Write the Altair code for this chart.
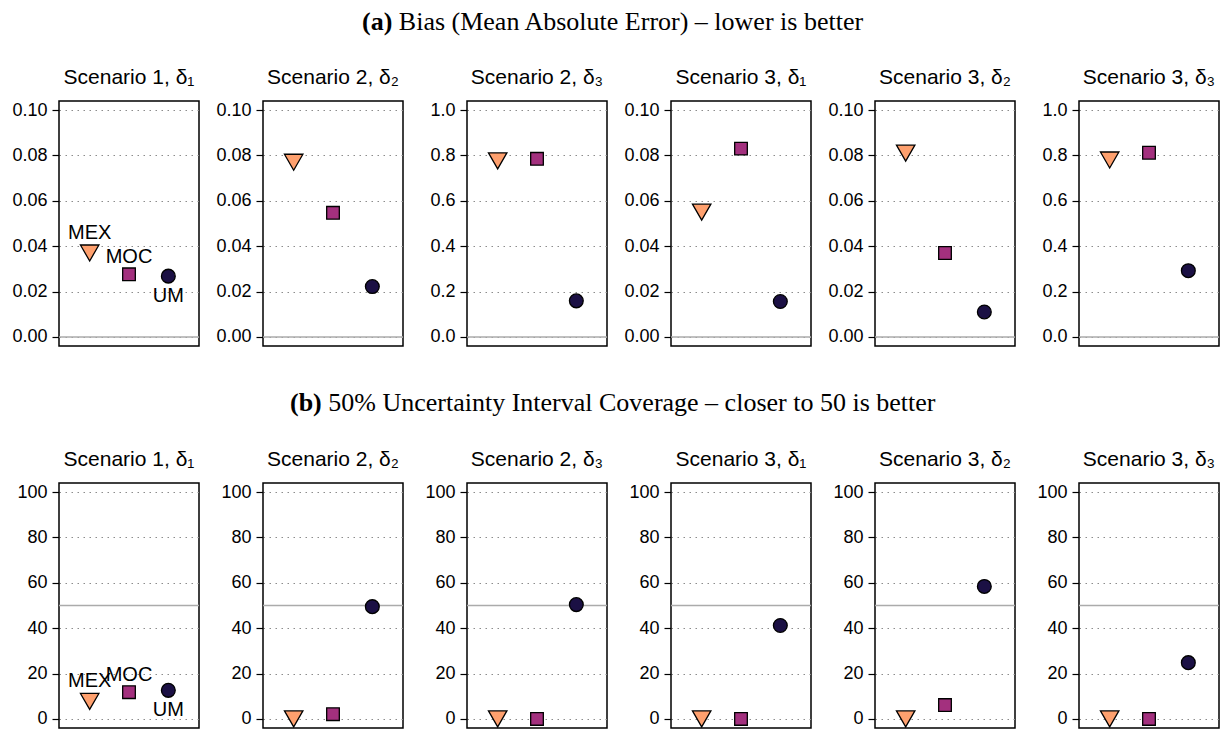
import altair as alt
import pandas as pd

# ---------------- data ----------------
panel_titles = ["Scenario 1, δ₁", "Scenario 2, δ₂", "Scenario 2, δ₃",
                "Scenario 3, δ₁", "Scenario 3, δ₂", "Scenario 3, δ₃"]
methods = ["MEX", "MOC", "UM"]
method_pos = [1, 2, 3]

mae_mex = [0.037, 0.077, 0.776, 0.055, 0.081, 0.780]
mae_moc = [0.0276, 0.0547, 0.785, 0.083, 0.037, 0.812]
mae_um = [0.0268, 0.0222, 0.159, 0.0156, 0.011, 0.292]

cov_mex = [7.7, 0.0, 0.0, 0.0, 0.0, 0.0]
cov_moc = [11.8, 2.1, 0.0, 0.0, 6.1, 0.0]
cov_um = [12.6, 49.5, 50.4, 41.2, 58.4, 24.8]

mae_small_ticks = [0.0, 0.02, 0.04, 0.06, 0.08, 0.10]
mae_large_ticks = [0.0, 0.2, 0.4, 0.6, 0.8, 1.0]
mae_large_panels = [2, 5]
cov_ticks = [0, 20, 40, 60, 80, 100]

header_a_bold = "(a)"
header_a_text = "Bias (Mean Absolute Error) – lower is better"
header_b_bold = "(b)"
header_b_text = "50% Uncertainty Interval Coverage – closer to 50 is better"

# ---------------- style ----------------
SANS = "Liberation Sans"
SERIF = "Liberation Serif"
shapes = {"MEX": "triangle-down", "MOC": "square", "UM": "circle"}
sizes = {"MEX": 340, "MOC": 160, "UM": 190}
fills = {"MEX": "#FEA06E", "MOC": "#A3307E", "UM": "#1B1044"}
label_dy = {"MEX": -20, "MOC": -17, "UM": 20}

PW = 140
PH = 245
HFS = 26


def header_layers(bold, text, xstart, ytop):
    bold_w = {"(a)": 1.166, "(b)": 1.222}[bold] * HFS
    hb = alt.Chart(pd.DataFrame({"t": [bold]})).mark_text(
        font=SERIF, fontSize=HFS, fontWeight="bold", align="left", baseline="top",
        color="black").encode(x=alt.value(xstart), y=alt.value(ytop), text="t:N")
    ht = alt.Chart(pd.DataFrame({"t": [text]})).mark_text(
        font=SERIF, fontSize=HFS, fontWeight="normal", align="left", baseline="top",
        color="black").encode(x=alt.value(xstart + bold_w + 0.25 * HFS),
                              y=alt.value(ytop), text="t:N")
    return [hb, ht]


def make_panel(i, mex, moc, um, ticks, fmt, refval, annotate, header=None):
    df = pd.DataFrame({"method": methods, "pos": method_pos,
                       "value": [mex[i], moc[i], um[i]]})
    span = ticks[-1] - ticks[0]
    pad = span * 0.04
    yscale = alt.Scale(domain=[ticks[0] - pad, ticks[-1] + pad], nice=False, zero=False)
    xscale = alt.Scale(domain=[0.22, 3.78], nice=False, zero=False)
    yaxis = alt.Axis(values=ticks, format=fmt, title=None, grid=True,
                     gridDash=[1.5, 4.5], gridColor="#8c8c8c", gridWidth=1,
                     domain=False, tickSize=7, tickWidth=1.2, tickColor="black",
                     labelPadding=5, labelFont=SANS, labelFontSize=18,
                     labelColor="black")
    ref = alt.Chart(pd.DataFrame({"value": [refval]})).mark_rule(
        color="#ABABAB", strokeWidth=1.6).encode(
        y=alt.Y("value:Q", scale=yscale, axis=yaxis))
    layers = [ref]
    for m in methods:
        layers.append(
            alt.Chart(df).transform_filter(alt.datum.method == m).mark_point(
                shape=shapes[m], size=sizes[m], filled=True, fill=fills[m],
                stroke="black", strokeWidth=1.3, opacity=1).encode(
                x=alt.X("pos:Q", scale=xscale, axis=None),
                y=alt.Y("value:Q", scale=yscale, axis=yaxis))
        )
    if annotate:
        for m in methods:
            layers.append(
                alt.Chart(df).transform_filter(alt.datum.method == m).mark_text(
                    dy=label_dy[m], font=SANS, fontSize=20, color="black").encode(
                    x=alt.X("pos:Q", scale=xscale, axis=None),
                    y=alt.Y("value:Q", scale=yscale, axis=yaxis),
                    text="method:N")
            )
    # panel title as a text mark above the frame
    layers.append(
        alt.Chart(pd.DataFrame({"t": [panel_titles[i]]})).mark_text(
            font=SANS, fontSize=21, color="black", align="center",
            baseline="bottom").encode(x=alt.value(PW / 2), y=alt.value(-13), text="t:N")
    )
    if header is not None:
        layers.extend(header)
    return alt.layer(*layers).properties(
        width=PW, height=PH,
        view=alt.ViewBackground(stroke="black", strokeWidth=1.5),
    )


panels = []
for i in range(6):
    hdr = header_layers(header_a_bold, header_a_text, 303, -92) if i == 0 else None
    if i in mae_large_panels:
        panels.append(make_panel(i, mae_mex, mae_moc, mae_um, mae_large_ticks, ".1f", 0.0, i == 0, hdr))
    else:
        panels.append(make_panel(i, mae_mex, mae_moc, mae_um, mae_small_ticks, ".2f", 0.0, i == 0, hdr))
for i in range(6):
    hdr = header_layers(header_b_bold, header_b_text, 231, -93) if i == 0 else None
    panels.append(make_panel(i, cov_mex, cov_moc, cov_um, cov_ticks, "d", 50, i == 0, hdr))

chart = alt.concat(*panels, columns=6, spacing={"row": 137, "column": 64},
                   bounds="flush").properties(
    padding={"left": 3, "top": 0, "right": 0, "bottom": 0}
).configure_view(strokeWidth=0).configure(background="white")

chart.save("out.html", embed_options={"renderer": "svg", "actions": False})
